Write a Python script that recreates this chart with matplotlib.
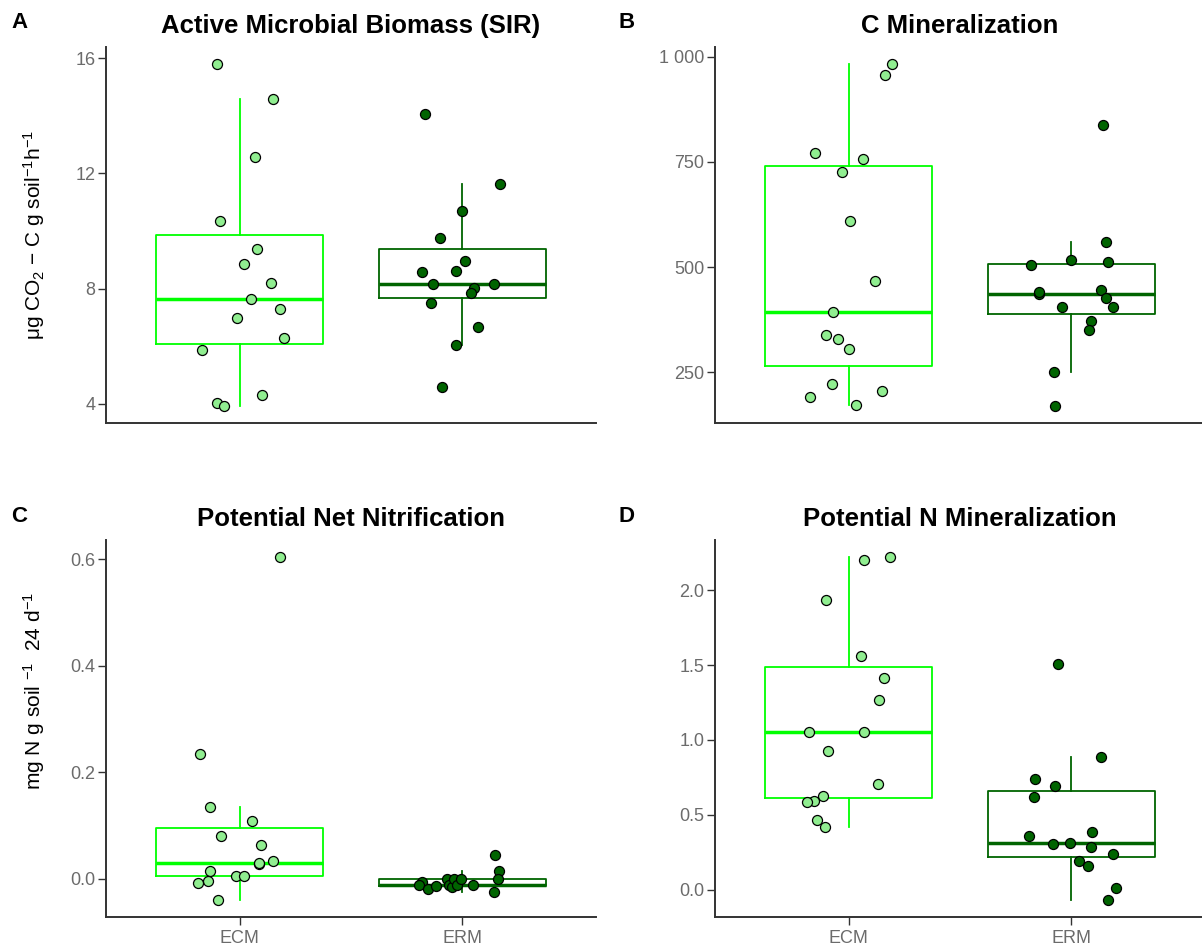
import matplotlib
matplotlib.use('Agg')
import matplotlib.pyplot as plt
import numpy as np

plt.rcParams['font.family'] = ['Liberation Sans', 'DejaVu Sans']
plt.rcParams['mathtext.default'] = 'regular'

groups = ['ECM', 'ERM']

# A: active microbial biomass (SIR)
sir_ecm = [15.79, 14.57, 12.57, 10.34, 9.38, 8.85, 8.18, 7.65, 7.30, 6.97, 6.30, 5.87, 4.32, 4.03, 3.93]
sir_erm = [14.05, 11.64, 10.68, 9.77, 8.95, 8.56, 8.60, 8.16, 8.17, 8.03, 7.84, 7.50, 6.68, 6.05, 4.57]
sir_ecm_jit = [-0.10, 0.15, 0.07, -0.09, 0.08, 0.02, 0.14, 0.05, 0.18, -0.01, 0.20, -0.17, 0.10, -0.10, -0.07]
sir_erm_jit = [-0.17, 0.17, 0.00, -0.10, 0.01, -0.18, -0.03, -0.13, 0.14, 0.05, 0.04, -0.14, 0.07, -0.03, -0.09]

# B: C mineralization
cmin_ecm = [982.5, 955.6, 771, 757.7, 725, 610, 467, 394.5, 339, 328.7, 305.5, 222.9, 207, 190.4, 172.8]
cmin_erm = [837, 560, 517, 513, 504, 445.5, 437.4, 440, 427, 405, 405, 372.3, 351.6, 250, 170.4]
cmin_ecm_jit = [0.196, 0.163, -0.149, 0.064, -0.029, 0.007, 0.12, -0.069, -0.10, -0.049, 0.002, -0.075, 0.151, -0.175, 0.031]
cmin_erm_jit = [0.144, 0.156, 0.0, 0.163, -0.18, 0.132, -0.146, -0.146, 0.156, -0.043, 0.189, 0.088, 0.08, -0.08, -0.073]

# C: potential net nitrification
nit_ecm = [0.604, 0.2335, 0.134, 0.1086, 0.0797, 0.0634, 0.0326, 0.027, 0.029, 0.015, 0.0044, 0.0044, -0.0038, -0.0088, -0.040]
nit_erm = [0.044, 0.014, -0.001, -0.026, -0.006, -0.013, -0.020, -0.014, -0.001, -0.012, -0.015, -0.001, -0.012, -0.001, -0.012]
nit_ecm_jit = [0.181, -0.18, -0.135, 0.056, -0.085, 0.094, 0.149, 0.089, 0.089, -0.135, -0.017, 0.019, -0.14, -0.186, -0.097]
nit_erm_jit = [0.146, 0.165, 0.159, 0.14, -0.18, -0.193, -0.156, -0.119, -0.07, -0.06, -0.045, -0.036, -0.025, -0.008, 0.046]

# D: potential N mineralization
nmin_ecm = [2.22, 2.203, 1.933, 1.563, 1.416, 1.267, 1.053, 1.053, 0.924, 0.704, 0.628, 0.592, 0.583, 0.463, 0.416]
nmin_erm = [1.508, 0.889, 0.739, 0.695, 0.619, 0.388, 0.361, 0.305, 0.314, 0.287, 0.238, 0.194, 0.158, 0.009, -0.067]
nmin_ecm_jit = [0.184, 0.069, -0.10, 0.057, 0.158, 0.137, -0.18, 0.069, -0.092, 0.13, -0.113, -0.156, -0.189, -0.144, -0.106]
nmin_erm_jit = [-0.062, 0.132, -0.163, -0.075, -0.168, 0.094, -0.189, -0.081, -0.007, 0.087, 0.189, 0.033, 0.075, 0.201, 0.163]

box_colors = ['#00FF00', '#006400']
point_colors = ['#90EE90', '#006400']

W, H = 1202, 946
fig = plt.figure(figsize=(W / 100, H / 100), dpi=100)


def px_axes(x0, y0, x1, y1):
    return fig.add_axes([x0 / W, 1 - y1 / H, (x1 - x0) / W, (y1 - y0) / H])


def panel(ax, ecm, erm, ecm_jit, erm_jit, title, yticks, yticklabels, show_x):
    data = [ecm, erm]
    jits = [ecm_jit, erm_jit]
    for i in range(2):
        ax.boxplot([data[i]], positions=[i], widths=0.75, whis=1.5, showfliers=False,
                   boxprops=dict(color=box_colors[i], lw=1.3),
                   whiskerprops=dict(color=box_colors[i], lw=1.3),
                   capprops=dict(visible=False),
                   medianprops=dict(color=box_colors[i], lw=2.5),
                   zorder=2)
        x = i + np.array(jits[i])
        ax.scatter(x, data[i], s=52, facecolor=point_colors[i], edgecolor='black',
                   linewidth=0.9, zorder=3)
    allv = np.concatenate([ecm, erm])
    lo, hi = allv.min(), allv.max()
    pad = 0.05 * (hi - lo)
    ax.set_ylim(lo - pad, hi + pad)
    ax.set_xlim(-0.6, 1.6)
    ax.set_yticks(yticks)
    ax.set_yticklabels(yticklabels)
    for s in ['top', 'right']:
        ax.spines[s].set_visible(False)
    for s in ['left', 'bottom']:
        ax.spines[s].set_color('#333333')
        ax.spines[s].set_linewidth(1.4)
    ax.tick_params(axis='y', colors='#333333', labelcolor='#6b6b6b', labelsize=13,
                   length=5.5, width=1.0, pad=2)
    if show_x:
        ax.set_xticks([0, 1])
        ax.set_xticklabels(groups)
        ax.tick_params(axis='x', colors='#333333', labelcolor='#6b6b6b', labelsize=13,
                       length=5.5, width=1.0, pad=4)
    else:
        ax.set_xticks([])
    ax.set_title(title, fontsize=18.5, fontweight='bold', pad=10)


axA = px_axes(106, 47, 596, 423)
axB = px_axes(715, 47, 1205, 423)
axC = px_axes(106, 540, 596, 917)
axD = px_axes(715, 540, 1205, 917)

panel(axA, sir_ecm, sir_erm, sir_ecm_jit, sir_erm_jit, 'Active Microbial Biomass (SIR)',
      [4, 8, 12, 16], ['4', '8', '12', '16'], False)
panel(axB, cmin_ecm, cmin_erm, cmin_ecm_jit, cmin_erm_jit, 'C Mineralization',
      [250, 500, 750, 1000], ['250', '500', '750', '1 000'], False)
panel(axC, nit_ecm, nit_erm, nit_ecm_jit, nit_erm_jit, 'Potential Net Nitrification',
      [0, 0.2, 0.4, 0.6], ['0.0', '0.2', '0.4', '0.6'], True)
panel(axD, nmin_ecm, nmin_erm, nmin_ecm_jit, nmin_erm_jit, 'Potential N Mineralization',
      [0, 0.5, 1.0, 1.5, 2.0], ['0.0', '0.5', '1.0', '1.5', '2.0'], True)

axA.set_ylabel(r'μg CO$_2$ $-$ C g soil$^{-1}$h$^{-1}$', fontsize=15)
axA.yaxis.set_label_coords(-0.12, 0.5)
axC.set_ylabel(r'mg N g soil $^{-1}$  24 d$^{-1}$', fontsize=15)
axC.yaxis.set_label_coords(-0.12, 0.6)

for lab, x, y in [('A', 19, 23), ('B', 627, 23), ('C', 19, 517), ('D', 627, 517)]:
    fig.text(x / W, 1 - y / H, lab, fontsize=16, fontweight='bold', ha='center', va='center')

fig.savefig('out.png', dpi=100)
